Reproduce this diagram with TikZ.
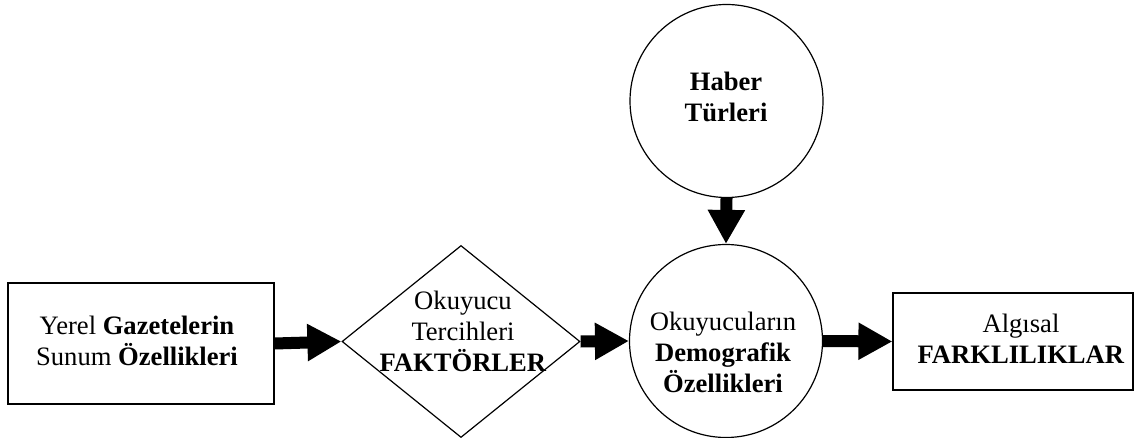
\documentclass[tikz,border=0pt]{standalone}
\usepackage{fontspec}
\setmainfont{Liberation Serif}
\usepackage{tikz}
\usetikzlibrary{positioning, shapes.geometric, arrows.meta}
\tikzset{every path/.append style={line width=0.6pt}}
\tikzset{
  kutu/.style={draw, rectangle, inner sep=0pt},
  daire/.style={draw, circle, inner sep=0pt, minimum size=96.5pt},
  elmas/.style={draw, diamond, inner sep=0pt, minimum width=119pt, minimum height=96pt},
  yazi/.style={align=center, inner sep=0pt, font=\fontsize{13.3}{15.5}\selectfont},
  akis/.style={line width=6pt, -{Triangle[length=17pt,width=17.5pt]}}
}

\begin{document}
\begin{tikzpicture}[x=0.5pt,y=-0.5pt]
 \useasboundingbox (0,0) rectangle (1134,438);
 % sekiller
 \node[kutu, minimum width=133pt, minimum height=60.5pt] (yerel) at (141,343.5) {};
 \node[elmas] (tercih) at (461,341.5) {};
 \node[daire] (haber) at (726.5,101) {};
 \node[daire] (demo) at (726,341) {};
 \node[kutu, minimum width=120pt, minimum height=48.5pt] (algi) at (1013,341.5) {};
 % yazilar
 \node[yazi] (yerelyazi) at (137,341) {Yerel \textbf{Gazetelerin}\\Sunum \textbf{Özellikleri}};
 \node[yazi] (tercihyazi) at (463,331) {Okuyucu\\Tercihleri\\\textbf{FAKTÖRLER}};
 \node[yazi] (haberyazi) at (726,97) {\textbf{Haber}\\\textbf{Türleri}};
 \node[yazi] (demoyazi) at (723,352) {Okuyucuların\\\textbf{Demografik}\\\textbf{Özellikleri}};
 \node[yazi] (algiyazi) at (1021,339) {Algısal\\\textbf{FARKLILIKLAR}};
 % oklar
 \draw[akis] (yerel.east) -- (tercih.west);
 \draw[akis] (tercih.east) -- (demo.west);
 \draw[akis] (haber.south) -- (demo.north);
 \draw[akis] (demo.east) -- (algi.west);
\end{tikzpicture}
\end{document}
